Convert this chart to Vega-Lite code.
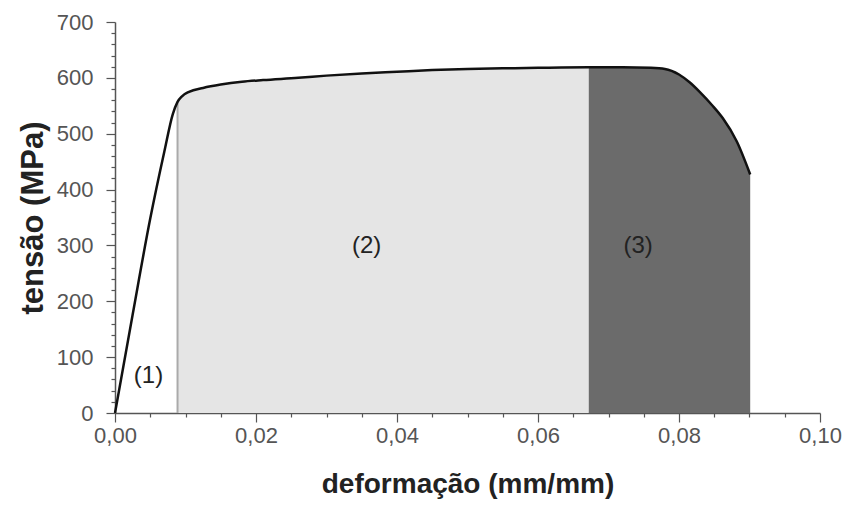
{
  "$schema": "https://vega.github.io/schema/vega-lite/v6.json",
  "width": 705,
  "height": 391,
  "autosize": "none",
  "padding": {"left": 115, "top": 22, "right": 29, "bottom": 101},
  "background": "white",
  "config": {"view": {"stroke": null}, "font": "Liberation Sans"},
  "datasets": {
    "curve": [
      {"x": 0.0, "y": 0},
      {"x": 0.0025, "y": 176},
      {"x": 0.0050, "y": 348},
      {"x": 0.0070, "y": 468},
      {"x": 0.0082, "y": 535},
      {"x": 0.00887, "y": 557},
      {"x": 0.0095, "y": 567},
      {"x": 0.0105, "y": 575},
      {"x": 0.0125, "y": 582},
      {"x": 0.015, "y": 588},
      {"x": 0.018, "y": 593},
      {"x": 0.021, "y": 596},
      {"x": 0.026, "y": 600},
      {"x": 0.030, "y": 604},
      {"x": 0.035, "y": 608},
      {"x": 0.040, "y": 611},
      {"x": 0.045, "y": 614},
      {"x": 0.050, "y": 616},
      {"x": 0.055, "y": 617},
      {"x": 0.060, "y": 618},
      {"x": 0.0672, "y": 619},
      {"x": 0.072, "y": 619},
      {"x": 0.0760, "y": 618},
      {"x": 0.0780, "y": 616},
      {"x": 0.0800, "y": 606},
      {"x": 0.0815, "y": 592},
      {"x": 0.083, "y": 574},
      {"x": 0.0847, "y": 551},
      {"x": 0.0862, "y": 528},
      {"x": 0.0882, "y": 486},
      {"x": 0.0901, "y": 427}
    ],
    "labels": [
      {"x": 0.00475, "y": 66, "t": "(1)"},
      {"x": 0.0357, "y": 299, "t": "(2)"},
      {"x": 0.0742, "y": 299, "t": "(3)"}
    ]
  },
  "encoding": {
    "x": {
      "field": "x", "type": "quantitative",
      "scale": {"domain": [0, 0.1], "nice": false, "zero": false},
      "axis": {
        "title": "deformação (mm/mm)",
        "values": [0, 0.005, 0.01, 0.015, 0.02, 0.025, 0.03, 0.035, 0.04, 0.045, 0.05, 0.055, 0.06, 0.065, 0.07, 0.075, 0.08, 0.085, 0.09, 0.095, 0.1],
        "labelExpr": "round(datum.value*1000) % 20 === 0 ? replace(format(datum.value, '.2f'), '.', ',') : ''",
        "tickSize": {"condition": {"test": "round(datum.value*1000) % 20 === 0", "value": 9}, "value": 4},
        "grid": false,
        "domainColor": "#555", "domainWidth": 1.5,
        "tickColor": "#555", "tickWidth": 1.2,
        "labelColor": "#555", "labelFontSize": 22, "labelPadding": 3,
        "labelFlush": false, "labelOverlap": false,
        "titleFontSize": 28, "titleFontWeight": "bold", "titleColor": "#222",
        "titlePadding": 24
      }
    },
    "y": {
      "field": "y", "type": "quantitative",
      "scale": {"domain": [0, 700], "nice": false},
      "axis": {
        "title": "tensão (MPa)",
        "values": [0, 20, 40, 60, 80, 100, 120, 140, 160, 180, 200, 220, 240, 260, 280, 300, 320, 340, 360, 380, 400, 420, 440, 460, 480, 500, 520, 540, 560, 580, 600, 620, 640, 660, 680, 700],
        "labelExpr": "datum.value % 100 === 0 ? datum.label : ''",
        "tickSize": {"condition": {"test": "datum.value % 100 === 0", "value": 9}, "value": 4},
        "grid": false,
        "domainColor": "#555", "domainWidth": 1.5,
        "tickColor": "#555", "tickWidth": 1.2,
        "labelColor": "#555", "labelFontSize": 22, "labelPadding": 13,
        "labelOverlap": false, "labelFlush": false,
        "titleFontSize": 31, "titleFontWeight": "bold", "titleColor": "#222",
        "titlePadding": 7
      }
    }
  },
  "layer": [
    {
      "data": {"name": "curve"},
      "transform": [{"filter": "datum.x >= 0.00887 && datum.x <= 0.0672"}],
      "mark": {"type": "area", "color": "#e5e5e5", "interpolate": "monotone"},
      "encoding": {}
    },
    {
      "data": {"name": "curve"},
      "transform": [{"filter": "datum.x >= 0.0672"}],
      "mark": {"type": "area", "color": "#6b6b6b", "interpolate": "monotone"},
      "encoding": {}
    },
    {
      "data": {"values": [{"x": 0.00887, "y": 0, "y2": 557}]},
      "mark": {"type": "rule", "color": "#aaaaaa", "strokeWidth": 2},
      "encoding": {"y2": {"field": "y2"}}
    },
    {
      "data": {"name": "curve"},
      "mark": {"type": "line", "color": "#111", "strokeWidth": 2.5, "interpolate": "monotone"},
      "encoding": {}
    },
    {
      "data": {"name": "labels"},
      "mark": {"type": "text", "fontSize": 24, "color": "#222", "font": "Liberation Sans"},
      "encoding": {"text": {"field": "t"}}
    }
  ]
}
